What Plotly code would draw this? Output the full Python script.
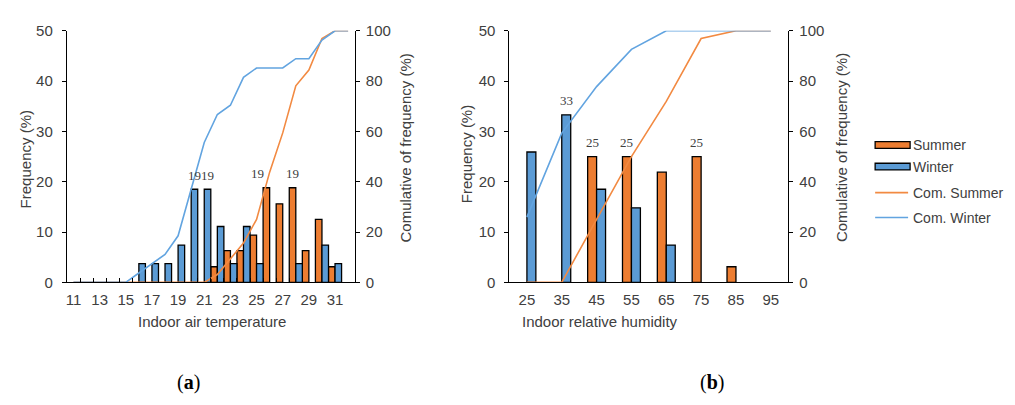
import plotly.graph_objects as go

# ---------------- data ----------------
temps = list(range(11, 33))
temp_tick_vals = list(range(11, 32, 2))
temp_tick_labels = [str(v) for v in temp_tick_vals]

summer_freq_a = [0, 0, 0, 0, 0, 0, 0, 0, 0, 0, 0,
                 3.1, 6.3, 6.3, 9.4, 18.8, 15.6, 18.8, 6.3, 12.5, 3.1, 0]
winter_freq_a = [0, 0, 0, 0, 0, 3.7, 3.7, 3.7, 7.4, 18.5, 18.5,
                 11.1, 3.7, 11.1, 3.7, 0, 0, 3.7, 0, 7.4, 3.7, 0]
summer_cum_a = [0, 0, 0, 0, 0, 0, 0, 0, 0, 0, 0,
                3.1, 9.4, 15.6, 25.0, 43.8, 59.4, 78.1, 84.4, 96.9, 100, 100]
winter_cum_a = [0, 0, 0, 0, 0, 3.7, 7.4, 11.1, 18.5, 37.0, 55.6,
                66.7, 70.4, 81.5, 85.2, 85.2, 85.2, 88.9, 88.9, 96.3, 100, 100]

rh = [25, 35, 45, 55, 65, 75, 85, 95]
rh_tick_labels = [str(v) for v in rh]
summer_freq_b = [0, 0, 25, 25, 21.9, 25, 3.1, 0]
winter_freq_b = [25.9, 33.3, 18.5, 14.8, 7.4, 0, 0, 0]
summer_cum_b = [0, 0, 25, 50, 71.9, 96.9, 100, 100]
winter_cum_b = [25.9, 59.3, 77.8, 92.6, 100, 100, 100, 100]

freq_ticks = [0, 10, 20, 30, 40, 50]
cum_ticks = [0, 20, 40, 60, 80, 100]

# ---------------- style ----------------
W, H = 1015, 405
ORANGE = "#ED7D31"
BLUE = "#5B9BD5"
ORANGE_LINE = "#F28A42"
BLUE_LINE = "#62A4E0"
TXT = "#404040"
SANS = "Arial, Liberation Sans, sans-serif"
SERIF = "Times New Roman, Liberation Serif, serif"
TICK_FONT = dict(family=SANS, size=15, color=TXT)


def px(x):
    return x / W


def py(y):
    return 1 - y / H


def nz(vals):
    return [v if v else None for v in vals]


BAR_W_A = 0.5
BAR_W_B = 2.57
OUT = dict(color="black", width=1.3)

fig = go.Figure()

# chart (a)
fig.add_bar(x=temps, y=nz(summer_freq_a), width=BAR_W_A, offset=-BAR_W_A,
            marker=dict(color=ORANGE, line=OUT), xaxis="x", yaxis="y", name="Summer")
fig.add_bar(x=temps, y=nz(winter_freq_a), width=BAR_W_A, offset=0,
            marker=dict(color=BLUE, line=OUT), xaxis="x", yaxis="y", name="Winter")
fig.add_scatter(x=temps, y=summer_cum_a, mode="lines", line=dict(color=ORANGE_LINE, width=1.6),
                xaxis="x", yaxis="y2", name="Com. Summer")
fig.add_scatter(x=temps, y=winter_cum_a, mode="lines", line=dict(color=BLUE_LINE, width=1.6),
                xaxis="x", yaxis="y2", name="Com. Winter")

# chart (b)
fig.add_bar(x=rh, y=nz(summer_freq_b), width=BAR_W_B, offset=-BAR_W_B,
            marker=dict(color=ORANGE, line=OUT), xaxis="x2", yaxis="y3", name="Summer")
fig.add_bar(x=rh, y=nz(winter_freq_b), width=BAR_W_B, offset=0,
            marker=dict(color=BLUE, line=OUT), xaxis="x2", yaxis="y3", name="Winter")
fig.add_scatter(x=rh, y=summer_cum_b, mode="lines", line=dict(color=ORANGE_LINE, width=1.6),
                xaxis="x2", yaxis="y4", name="Com. Summer")
fig.add_scatter(x=rh, y=winter_cum_b, mode="lines", line=dict(color=BLUE_LINE, width=1.6),
                xaxis="x2", yaxis="y4", name="Com. Winter")

ydom = [py(285.3), py(22.7)]
axis_common = dict(showline=True, linecolor="black", linewidth=1.3, showgrid=False,
                   zeroline=False, tickfont=TICK_FONT, fixedrange=True)

fig.update_layout(
    width=W, height=H, autosize=False,
    margin=dict(l=0, r=0, t=0, b=0),
    paper_bgcolor="white", plot_bgcolor="white",
    barmode="overlay", showlegend=False,
    xaxis=dict(domain=[px(66), px(354)], range=[10.5, 32.5], anchor="y",
               tickmode="array", tickvals=temp_tick_vals, ticktext=temp_tick_labels,
               ticks="", ticklabelstandoff=4,
               minor=dict(tickmode="array", tickvals=[t + 0.5 for t in temps[:-1]],
                          ticks="inside", ticklen=4, tickcolor="black", tickwidth=1.2),
               **axis_common),
    yaxis=dict(domain=ydom, range=[0, 50], anchor="x", tickvals=freq_ticks,
               ticks="outside", ticklen=4, tickcolor="black", ticklabelstandoff=6,
               **axis_common),
    yaxis2=dict(domain=ydom, range=[0, 100], anchor="x", overlaying="y", side="right",
                tickvals=cum_ticks, ticks="outside", ticklen=4, tickcolor="black",
                ticklabelstandoff=3, **axis_common),
    xaxis2=dict(domain=[px(509), px(788)], range=[20, 100], anchor="y3",
                tickmode="array", tickvals=rh, ticktext=rh_tick_labels,
                ticks="", ticklabelstandoff=4, **axis_common),
    yaxis3=dict(domain=ydom, range=[0, 50], anchor="x2", tickvals=freq_ticks,
                ticks="outside", ticklen=4, tickcolor="black", ticklabelstandoff=6,
                **axis_common),
    yaxis4=dict(domain=ydom, range=[0, 100], anchor="x2", overlaying="y3", side="right",
                tickvals=cum_ticks, ticks="outside", ticklen=4, tickcolor="black",
                ticklabelstandoff=3, **axis_common),
)

annotations = []
shapes = []


def paper_text(text, x, y, size=15, angle=0, xanchor="center", family=SANS, color=TXT):
    annotations.append(dict(text=text, x=px(x), y=py(y), xref="paper", yref="paper",
                            showarrow=False, textangle=angle, xanchor=xanchor,
                            yanchor="middle", font=dict(family=family, size=size, color=color)))


# axis titles
paper_text("Frequency (%)", 24, 157, angle=-90)
paper_text("Comulative of frequency (%)", 405, 145, angle=-90)
paper_text("Indoor air temperature", 211, 326)
paper_text("Frequency (%)", 466, 152, angle=-90)
paper_text("Comulative of frequency (%)", 842, 145, angle=-90)
paper_text("Indoor relative humidity", 600, 326)

# captions
paper_text("(<b>a</b>)", 187.5, 390, size=20, family=SERIF, color="black")
paper_text("(<b>b</b>)", 712, 390, size=20, family=SERIF, color="black")


# data labels on the highest bars of each series
def max_labels(xs, vals, off, width, xref, yref, xshifts=None):
    m = max(vals)
    for x, v in zip(xs, vals):
        if v == m:
            shift = (xshifts or {}).get(x, 0)
            annotations.append(dict(text=str(int(v + 0.5)), x=x + off + width / 2, y=v,
                                    xref=xref, yref=yref, showarrow=False,
                                    xanchor="center", yanchor="middle", yshift=14,
                                    xshift=shift,
                                    font=dict(family=SERIF, size=13, color=TXT)))


max_labels(temps, summer_freq_a, -BAR_W_A, BAR_W_A, "x", "y", {26: -9})
max_labels(temps, winter_freq_a, 0, BAR_W_A, "x", "y")
max_labels(rh, summer_freq_b, -BAR_W_B, BAR_W_B, "x2", "y3")
max_labels(rh, winter_freq_b, 0, BAR_W_B, "x2", "y3")

# legend (manual)
legend_items = [("Summer", "bar", ORANGE, 142), ("Winter", "bar", BLUE, 164.5),
                ("Com. Summer", "line", ORANGE_LINE, 191.7), ("Com. Winter", "line", BLUE_LINE, 217.7)]
for label, kind, color, yc in legend_items:
    if kind == "bar":
        shapes.append(dict(type="rect", xref="paper", yref="paper",
                           x0=px(875), x1=px(910), y0=py(yc + 3.5), y1=py(yc - 3.5),
                           fillcolor=color, line=dict(color="black", width=1.3)))
    else:
        shapes.append(dict(type="line", xref="paper", yref="paper",
                           x0=px(875), x1=px(908), y0=py(yc), y1=py(yc),
                           line=dict(color=color, width=1.6)))
    paper_text(label, 911, yc, size=14, xanchor="left")

fig.update_layout(annotations=annotations, shapes=shapes)

fig.write_html("out.html")
